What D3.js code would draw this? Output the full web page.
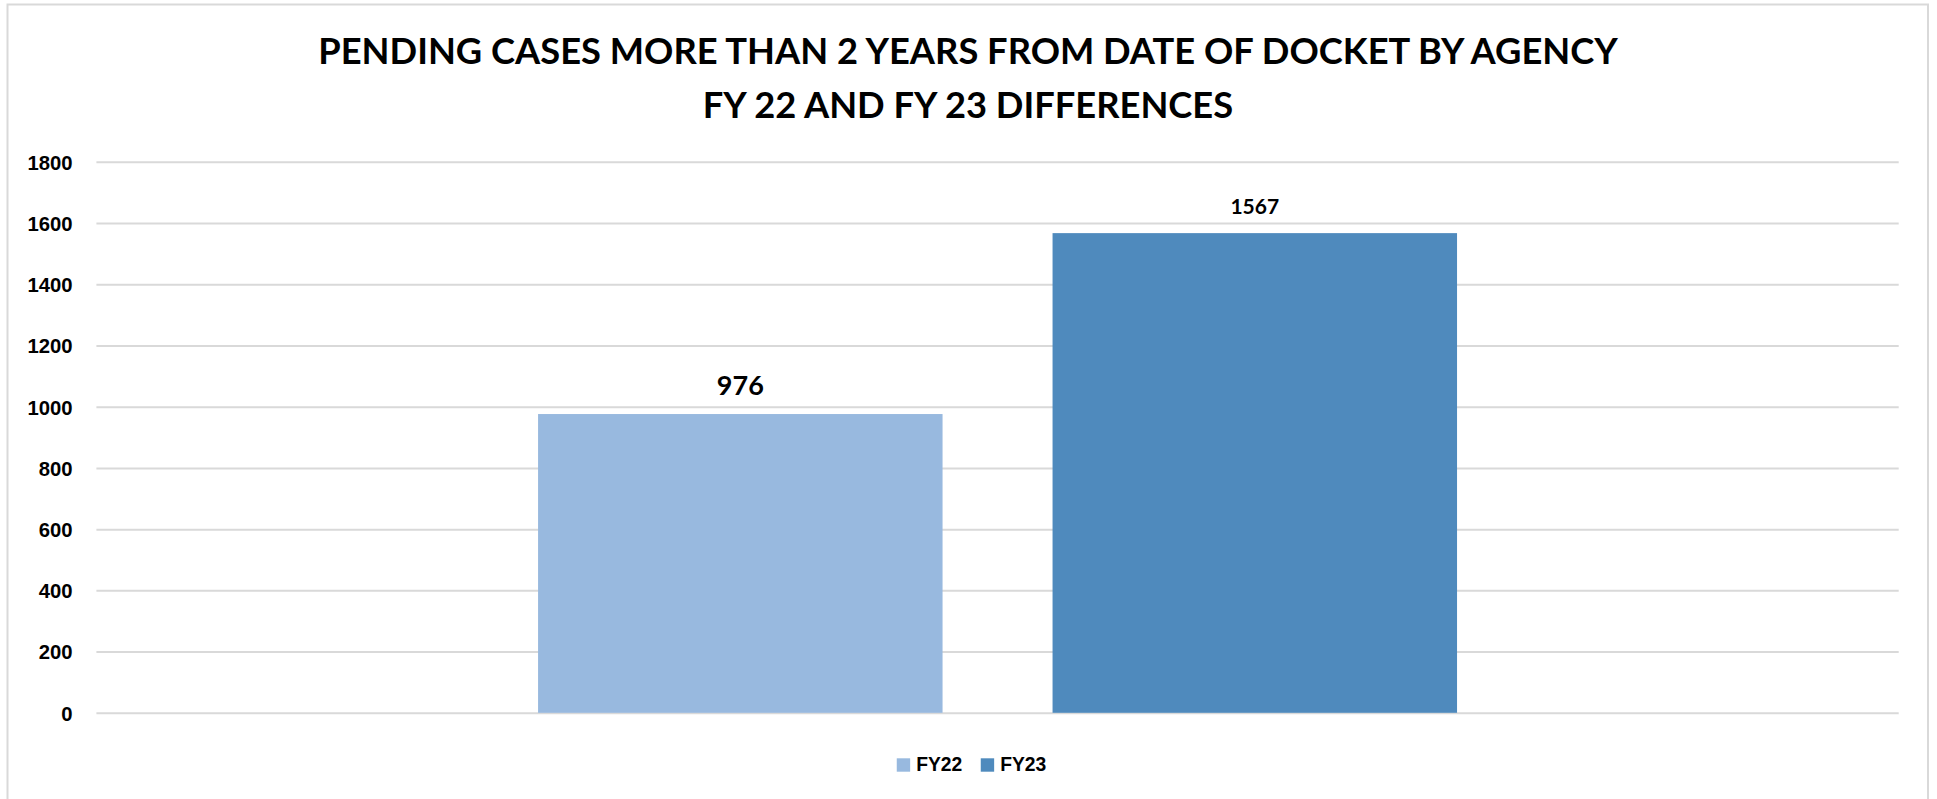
<!DOCTYPE html>
<html>
<head>
<meta charset="utf-8">
<script src="https://cdn.jsdelivr.net/npm/d3@7"></script>
<style>
  html, body { margin: 0; padding: 0; background: #fff; }
  svg { display: block; }
</style>
</head>
<body>
<svg id="chart" width="1937" height="799"></svg>
<script>
// ---- data ----
const titleLines = ["PENDING CASES MORE THAN 2 YEARS FROM DATE OF DOCKET BY AGENCY", "FY 22 AND FY 23 DIFFERENCES"];
const categories = [""];
const seriesNames = ["FY22", "FY23"];
const seriesValues = [976, 1567];
const seriesColors = ["#98B9DF", "#4F8ABD"];
const yTicks = [0, 200, 400, 600, 800, 1000, 1200, 1400, 1600, 1800];
const labelSizes = [27, 21];

// ---- layout ----
const W = 1937, H = 799;
const plot = { left: 96.4, right: 1898.7, top: 161.8, bottom: 712.8 };
const svg = d3.select("#chart");

// frame
svg.append("rect")
  .attr("x", 7.5).attr("y", 4.5)
  .attr("width", 1920.5).attr("height", 820)
  .attr("fill", "#fff").attr("stroke", "#d9d9d9").attr("stroke-width", 2);

// title
const titleText = svg.append("text")
  .attr("text-anchor", "middle")
  .attr("font-family", "Lato, 'Open Sans', sans-serif")
  .attr("font-weight", 700)
  .attr("font-size", 36.3)
  .attr("fill", "#000");
const titleY = [64.3, 118.3];
const titleW = [1304, 531];
titleLines.forEach((t, i) => {
  const el = titleText.append("tspan").attr("x", 968).attr("y", titleY[i]).text(t);
  const len = el.node().getComputedTextLength();
  if (Math.abs(len - titleW[i]) / titleW[i] > 0.01) {
    el.attr("textLength", titleW[i]).attr("lengthAdjust", "spacingAndGlyphs");
  }
});

// scales
const y = d3.scaleLinear().domain([0, 1800]).range([plot.bottom, plot.top]);
const x0 = d3.scaleBand().domain(categories).range([plot.left, plot.right])
  .paddingInner(0).paddingOuter(0.4806);
const x1 = d3.scaleBand().domain(seriesNames).range([0, x0.bandwidth()])
  .paddingInner(0.2138).paddingOuter(0);

// gridlines via axis
const grid = svg.append("g")
  .attr("transform", `translate(${plot.left},0)`)
  .call(d3.axisLeft(y).tickValues(yTicks).tickSize(-(plot.right - plot.left)).tickFormat(""));
grid.select(".domain").remove();
grid.selectAll(".tick line").attr("stroke", "#d9d9d9").attr("stroke-width", 2);

// y tick labels via axis
const yAxis = svg.append("g")
  .attr("transform", `translate(72.5,0)`)
  .call(d3.axisLeft(y).tickValues(yTicks).tickSize(0).tickPadding(0).tickFormat(d3.format("d")));
yAxis.select(".domain").remove();
yAxis.selectAll("text")
  .attr("font-family", "'Liberation Sans', Arial, sans-serif")
  .attr("font-weight", 700)
  .attr("font-size", 20.3)
  .attr("fill", "#000")
  .attr("dy", "0.36em");

// bars
const data = seriesNames.map((s, i) => ({ cat: categories[0], series: s, value: seriesValues[i], color: seriesColors[i], ls: labelSizes[i] }));
const g = svg.append("g");
g.selectAll("rect.bar").data(data).enter().append("rect")
  .attr("class", "bar")
  .attr("x", d => x0(d.cat) + x1(d.series))
  .attr("y", d => y(d.value))
  .attr("width", x1.bandwidth())
  .attr("height", d => y(0) - y(d.value))
  .attr("fill", d => d.color);

// data labels
g.selectAll("text.lbl").data(data).enter().append("text")
  .attr("class", "lbl")
  .attr("x", d => x0(d.cat) + x1(d.series) + x1.bandwidth() / 2)
  .attr("y", d => y(d.value) - 19.5)
  .attr("text-anchor", "middle")
  .attr("font-family", "Lato, 'Open Sans', sans-serif")
  .attr("font-weight", 700)
  .attr("font-size", d => d.ls)
  .attr("fill", "#000")
  .text(d => d.value);

// legend
const legend = svg.append("g");
const sq = 13.4;
const items = legend.selectAll("g.item").data(data).enter().append("g").attr("class", "item");
items.append("rect").attr("width", sq).attr("height", sq).attr("y", 758.3).attr("fill", d => d.color);
items.append("text")
  .attr("y", 770.9)
  .attr("font-family", "'Liberation Sans', Arial, sans-serif")
  .attr("font-weight", 700)
  .attr("font-size", 19.3)
  .attr("fill", "#000")
  .text(d => d.series);
// position legend items
let widths = [];
items.each(function () { widths.push(d3.select(this).select("text").node().getComputedTextLength()); });
const gapSqText = 6, gapItems = 18.5;
const total = widths.reduce((a, w) => a + sq + gapSqText + w, 0) + gapItems * (widths.length - 1);
let cx = 971.5 - total / 2;
items.each(function (d, i) {
  const it = d3.select(this);
  it.select("rect").attr("x", cx);
  it.select("text").attr("x", cx + sq + gapSqText);
  cx += sq + gapSqText + widths[i] + gapItems;
});
</script>
</body>
</html>
